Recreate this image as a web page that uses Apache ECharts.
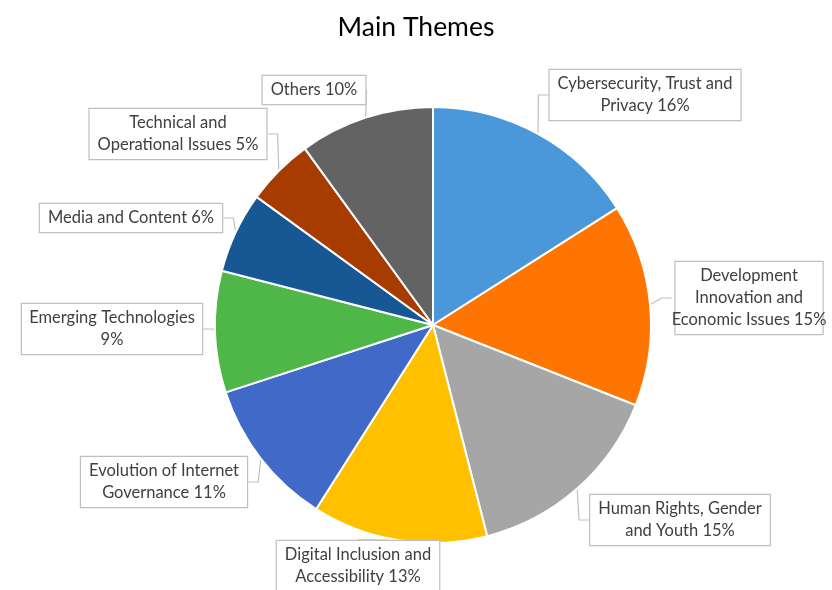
<!DOCTYPE html>
<html><head><meta charset="utf-8">
<script src="https://cdn.jsdelivr.net/npm/echarts@6/dist/echarts.min.js"></script>
<style>html,body{margin:0;padding:0;background:#fff}#c{width:832px;height:590px}</style>
</head><body><div id="c"></div>
<script>
const categories = ['Cybersecurity, Trust and Privacy','Development Innovation and Economic Issues','Human Rights, Gender and Youth','Digital Inclusion and Accessibility','Evolution of Internet Governance','Emerging Technologies','Media and Content','Technical and Operational Issues','Others'];
const values = [16,15,15,13,11,9,6,5,10];
const labelTexts = ['Cybersecurity, Trust and\nPrivacy 16%','Development\nInnovation and\nEconomic Issues 15%','Human Rights, Gender\nand Youth 15%','Digital Inclusion and\nAccessibility 13%','Evolution of Internet\nGovernance 11%','Emerging Technologies\n9%','Media and Content 6%','Technical and\nOperational Issues 5%','Others 10%'];
const colors = ['#4A98D9','#FF7500','#A6A6A6','#FFC000','#4169C8','#4FB748','#175894','#A63C00','#636363'];
const labelPos = [[645,95],[749,298],[680,520],[358,566],[164,482],[112,329],[131,218],[178,134],[314,90]];

const chart = echarts.init(document.getElementById('c'));
chart.setOption({
  animation:false,
  title:{text:'Main Themes',left:'center',top:9,textStyle:{fontFamily:'Lato',fontSize:26.5,fontWeight:'normal',color:'#000'}},
  series:[{
    type:'pie',
    center:[433,325],
    radius:[0,218],
    startAngle:90,
    clockwise:true,
    data:categories.map((n,i)=>({name:n,value:values[i],itemStyle:{color:colors[i]}})),
    itemStyle:{borderColor:'#fff',borderWidth:2},
    label:{
      formatter:p=>labelTexts[p.dataIndex],
      fontFamily:'Lato',fontSize:16.5,color:'#404040',lineHeight:22,overflow:'none',
      backgroundColor:'#fff',borderColor:'#BFBFBF',borderWidth:1.2,padding:[3,8],align:'center'
    },
    labelLine:{show:true,length:10,length2:10,lineStyle:{color:'#BFBFBF',width:1.2}},
    labelLayout:p=>({x:labelPos[p.dataIndex][0],y:labelPos[p.dataIndex][1],align:'center',verticalAlign:'middle'})
  }]
});
</script></body></html>
